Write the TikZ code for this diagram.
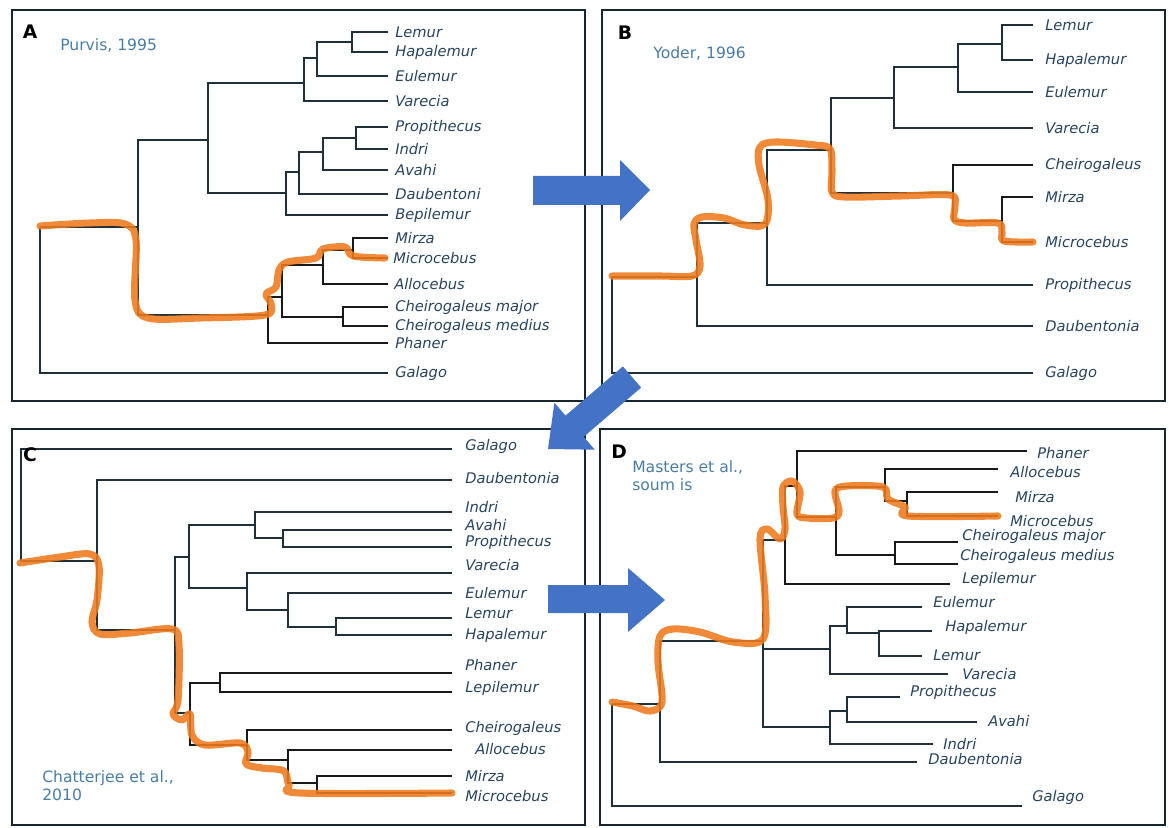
\documentclass[tikz,border=0pt]{standalone}
\usepackage{fontspec}
\setmainfont{DejaVu Sans}[ItalicFont={DejaVu Sans Oblique},BoldFont={DejaVu Sans Bold}]
\usetikzlibrary{calc}
\definecolor{treec}{HTML}{1F303B}
\definecolor{labc}{HTML}{28445F}
\definecolor{titc}{HTML}{4A7DA6}
\definecolor{orng}{HTML}{EE7A1E}
\definecolor{arrc}{HTML}{4472C4}
\definecolor{framec}{HTML}{17252C}
\tikzset{
 frame/.style={draw=framec, line width=1.9pt},
 br/.style={draw=treec, line width=1.4pt},
 brb/.style={draw=black!90, line width=1.9pt},
 lab/.style={font=\fontsize{11}{12}\selectfont\itshape, text=labc, inner sep=0pt, anchor=west},
 tit/.style={font=\fontsize{11.7}{14}\selectfont, text=titc, inner sep=0pt, anchor=north west, align=left},
 pl/.style={font=\fontsize{14}{14}\selectfont\bfseries, text=black, inner sep=0pt},
 hl/.style={draw=orng, line width=5.3pt, line cap=round, line join=round, opacity=0.88},
 bigarrow/.style={fill=arrc, draw=none},
}
\newcommand\mylf[6]{\coordinate (#1) at (#2,#3); \node[lab] (#1l) at ({#2+#4},{#3+#5}) {#6};}
\newcommand\kids[3][br]{\foreach \c in {#3} {\draw[#1] (#2) |- (\c);}}
\begin{document}
\begin{tikzpicture}[x=0.75pt,y=-0.75pt]
\useasboundingbox (0,0) rectangle (1169,827);
% frames
\draw[frame] (12,10) rectangle (585,401);
\draw[frame] (602,10) rectangle (1165,401);
\draw[frame] (12,429) rectangle (585,825);
\draw[frame] (600,429) rectangle (1165,825);

% ================= Panel A =================
\node[pl] (pA) at (30,32) {A};
\node[tit, anchor=west] (tA) at (60,45) {Purvis, 1995};
\mylf{a_lemur}{388}{32}{7}{0}{Lemur}
\mylf{a_hapalemur}{388}{52}{7}{0}{Hapalemur}
\mylf{a_eulemur}{388}{76}{7}{0}{Eulemur}
\mylf{a_varecia}{388}{101}{7}{0}{Varecia}
\mylf{a_propithecus}{388}{127}{7}{0}{Propithecus}
\mylf{a_indri}{388}{149}{7}{0}{Indri}
\mylf{a_avahi}{388}{170}{7}{0}{Avahi}
\mylf{a_daub}{388}{194}{7}{0}{Daubentoni}
\mylf{a_bepil}{388}{215}{7}{0}{Bepilemur}
\mylf{a_mirza}{388}{238}{7}{0}{Mirza}
\mylf{a_micro}{388}{258}{5}{0}{Microcebus}
\mylf{a_allo}{388}{284}{6}{0}{Allocebus}
\mylf{a_chmaj}{388}{307}{7}{0}{Cheirogaleus major}
\mylf{a_chmed}{388}{326}{7}{0}{Cheirogaleus medius}
\mylf{a_phaner}{388}{343}{7}{0}{Phaner}
\mylf{a_galago}{388}{373}{7}{0}{Galago}
\coordinate (A_LH) at (352,42);
\coordinate (A_LHE) at (317,58);
\coordinate (A_LHEV) at (304,83);
\coordinate (A_PI) at (356,138);
\coordinate (A_PIA) at (323,152);
\coordinate (A_PIAD) at (299,172);
\coordinate (A_PIADB) at (286,193);
\coordinate (A_LI) at (208,140);
\coordinate (A_MM) at (353,250);
\coordinate (A_MMA) at (323,265);
\coordinate (A_Ch) at (343,317);
\coordinate (A_Chg) at (282,297);
\coordinate (A_ChP) at (268,315);
\coordinate (A_in) at (138,227);
\coordinate (A_root) at (40,227);
\kids{A_LH}{a_lemur,a_hapalemur}
\kids{A_LHE}{A_LH,a_eulemur}
\kids{A_LHEV}{A_LHE,a_varecia}
\kids{A_PI}{a_propithecus,a_indri}
\kids{A_PIA}{A_PI,a_avahi}
\kids{A_PIAD}{A_PIA,a_daub}
\kids{A_PIADB}{A_PIAD,a_bepil}
\kids{A_LI}{A_LHEV,A_PIADB}
\kids[brb]{A_MM}{a_mirza,a_micro}
\kids[brb]{A_MMA}{A_MM,a_allo}
\kids[brb]{A_Ch}{a_chmaj,a_chmed}
\kids[brb]{A_Chg}{A_MMA,A_Ch}
\kids[brb]{A_ChP}{A_Chg,a_phaner}
\kids{A_in}{A_LI,A_ChP}
\kids{A_root}{A_in,a_galago}
\draw[hl] plot[smooth,tension=0.55] coordinates {(40,226) (90,223) (125,224) (136,240) (135,300) (148,318) (200,318) (265,315) (271,304) (266,294) (276,287) (279,270) (288,262) (316,258) (323,249) (345,247) (353,256) (385,258)};

% ================= Panel B =================
\node[pl] (pB) at (625,33) {B};
\node[tit, anchor=west] (tB) at (653,53) {Yoder, 1996};
\mylf{b_lemur}{1033}{25}{12}{0}{Lemur}
\mylf{b_hapalemur}{1033}{60}{12}{0}{Hapalemur}
\mylf{b_eulemur}{1033}{92}{12}{0}{Eulemur}
\mylf{b_varecia}{1033}{128}{12}{0}{Varecia}
\mylf{b_cheiro}{1033}{165}{12}{0}{Cheirogaleus}
\mylf{b_mirza}{1033}{197}{12}{0}{Mirza}
\mylf{b_micro}{1033}{242}{12}{0}{Microcebus}
\mylf{b_propi}{1033}{285}{12}{0}{Propithecus}
\mylf{b_daub}{1033}{326}{12}{0}{Daubentonia}
\mylf{b_galago}{1033}{373}{12}{0}{Galago}
\coordinate (B_LH) at (1002,44);
\coordinate (B_LHE) at (958,67);
\coordinate (B_LHEV) at (894,98);
\coordinate (B_MM) at (1002,221);
\coordinate (B_ChMM) at (953,193);
\coordinate (B_LC) at (831,150);
\coordinate (B_LCP) at (767,223);
\coordinate (B_D) at (697,277);
\coordinate (B_root) at (612,277);
\kids{B_LH}{b_lemur,b_hapalemur}
\kids{B_LHE}{B_LH,b_eulemur}
\kids{B_LHEV}{B_LHE,b_varecia}
\kids[brb]{B_MM}{b_mirza,b_micro}
\kids[brb]{B_ChMM}{b_cheiro,B_MM}
\kids{B_LC}{B_LHEV,B_ChMM}
\kids{B_LCP}{B_LC,b_propi}
\kids{B_D}{B_LCP,b_daub}
\kids{B_root}{B_D,b_galago}
\draw[hl] plot[smooth,tension=0.55] coordinates {(612,276) (660,276) (692,276) (700,266) (696,240) (694,224) (702,217) (724,218) (745,225) (765,224) (768,200) (759,165) (760,147) (775,142) (815,145) (830,149) (832,170) (832,192) (845,197) (900,196) (950,195) (955,205) (954,219) (965,223) (998,223) (1002,232) (1004,241) (1033,242)};

% ================= Panel C =================
\mylf{c_galago}{452}{449}{13}{-3}{Galago}
\mylf{c_daub}{452}{480}{13}{-2}{Daubentonia}
\mylf{c_indri}{452}{512}{13}{-5}{Indri}
\mylf{c_avahi}{452}{530}{13}{-5}{Avahi}
\mylf{c_propi}{452}{547}{13}{-5}{Propithecus}
\mylf{c_varecia}{452}{573}{13}{-8}{Varecia}
\mylf{c_eulemur}{452}{593}{13}{0}{Eulemur}
\mylf{c_lemur}{452}{618}{13}{-5}{Lemur}
\mylf{c_hapalemur}{452}{635}{13}{0}{Hapalemur}
\mylf{c_phaner}{452}{673}{13}{-8}{Phaner}
\mylf{c_lepil}{452}{692}{13}{-4}{Lepilemur}
\mylf{c_cheiro}{452}{730}{13}{-2}{Cheirogaleus}
\mylf{c_allo}{452}{750}{23}{-1}{Allocebus}
\mylf{c_mirza}{452}{776}{13}{0}{Mirza}
\mylf{c_micro}{452}{793}{13}{3}{Microcebus}
\coordinate (C_AP) at (283,538);
\coordinate (C_IAP) at (255,525);
\coordinate (C_LH) at (336,627);
\coordinate (C_ELH) at (288,610);
\coordinate (C_VELH) at (247,588);
\coordinate (C_LI) at (189,557);
\coordinate (C_PL) at (220,683);
\coordinate (C_MM) at (317,783);
\coordinate (C_AMM) at (288,760);
\coordinate (C_CAMM) at (247,745);
\coordinate (C_PLC) at (190,713);
\coordinate (C_mid) at (175,630);
\coordinate (C_D) at (97,561);
\coordinate (C_root) at (21,561);
\kids{C_AP}{c_avahi,c_propi}
\kids{C_IAP}{c_indri,C_AP}
\kids{C_LH}{c_lemur,c_hapalemur}
\kids{C_ELH}{c_eulemur,C_LH}
\kids{C_VELH}{c_varecia,C_ELH}
\kids{C_LI}{C_IAP,C_VELH}
\kids[brb]{C_PL}{c_phaner,c_lepil}
\kids[brb]{C_MM}{c_mirza,c_micro}
\kids[brb]{C_AMM}{c_allo,C_MM}
\kids[brb]{C_CAMM}{c_cheiro,C_AMM}
\kids[brb]{C_PLC}{C_PL,C_CAMM}
\kids{C_mid}{C_LI,C_PLC}
\kids{C_D}{c_daub,C_mid}
\kids{C_root}{c_galago,C_D}
\node[pl] (pC) at (30,455) {C};
\node[tit] (tC) at (42,770) {Chatterjee et al.,\\2010};
\draw[hl] plot[smooth,tension=0.55] coordinates {(20,563) (60,557) (90,554) (99,566) (97,600) (92,622) (100,634) (130,633) (172,629) (179,645) (178,700) (173,714) (182,720) (190,714) (192,735) (205,745) (240,743) (248,752) (246,764) (262,768) (284,771) (289,785) (300,793) (452,793)};

% ================= Panel D =================
\node[pl] (pD) at (619,452) {D};
\node[tit] (tD) at (632,460) {Masters et al.,\\soum is};
\mylf{d_phaner}{1027}{451}{10}{2}{Phaner}
\mylf{d_allo}{998}{469}{12}{3}{Allocebus}
\mylf{d_mirza}{998}{492}{17}{5}{Mirza}
\mylf{d_micro}{998}{516}{12}{5}{Microcebus}
\mylf{d_chmaj}{958}{542}{4}{-6}{Cheirogaleus major}
\mylf{d_chmed}{958}{564}{2}{-8}{Cheirogaleus medius}
\mylf{d_lepil}{950}{584}{12}{-5}{Lepilemur}
\mylf{d_eulemur}{922}{607}{11}{-5}{Eulemur}
\mylf{d_hapa}{932}{631}{13}{-4}{Hapalemur}
\mylf{d_lemur}{922}{656}{11}{-1}{Lemur}
\mylf{d_varecia}{948}{674}{14}{0}{Varecia}
\mylf{d_propi}{900}{697}{10}{-5}{Propithecus}
\mylf{d_avahi}{977}{722}{11}{-1}{Avahi}
\mylf{d_indri}{933}{744}{10}{0}{Indri}
\mylf{d_daub}{917}{762}{11}{-3}{Daubentonia}
\mylf{d_galago}{1022}{806}{10}{-9}{Galago}
\coordinate (D_MM) at (907,501);
\coordinate (D_AMM) at (885,487);
\coordinate (D_Ch) at (895,555);
\coordinate (D_Cg) at (836,517);
\coordinate (D_Ph) at (797,486);
\coordinate (D_Lep) at (785,540);
\coordinate (D_LH) at (879,633);
\coordinate (D_ELH) at (847,626);
\coordinate (D_Lem) at (830,649);
\coordinate (D_PA) at (847,711);
\coordinate (D_Ind) at (830,727);
\coordinate (D_top) at (763,641);
\coordinate (D_D) at (660,704);
\coordinate (D_root) at (612,704);
\kids[brb]{D_MM}{d_mirza,d_micro}
\kids[brb]{D_AMM}{d_allo,D_MM}
\kids[brb]{D_Ch}{d_chmaj,d_chmed}
\kids[brb]{D_Cg}{D_AMM,D_Ch}
\kids[brb]{D_Ph}{d_phaner,D_Cg}
\kids[brb]{D_Lep}{D_Ph,d_lepil}
\kids{D_LH}{d_hapa,d_lemur}
\kids{D_ELH}{d_eulemur,D_LH}
\kids{D_Lem}{D_ELH,d_varecia}
\kids{D_PA}{d_propi,d_avahi}
\kids{D_Ind}{D_PA,d_indri}
\kids{D_top}{D_Lep,D_Lem,D_Ind}
\kids{D_D}{D_top,d_daub}
\kids{D_root}{D_D,d_galago}
\draw[hl] plot[smooth,tension=0.55] coordinates {(612,702) (633,706) (650,711) (662,702) (658,662) (660,636) (673,629) (700,632) (733,642) (763,639) (765,596) (760,539) (767,529) (780,539) (785,529) (783,506) (783,487) (792,481) (800,492) (797,514) (807,518) (833,518) (839,511) (835,491) (847,486) (883,487) (888,499) (905,507) (908,516) (998,516)};

% ================= Arrows =================
\path[bigarrow] (533,176) -- (620,176) -- (620,160) -- (650,190) -- (620,221) -- (620,205) -- (533,205) -- cycle;
\path[bigarrow] (622.9,366.4) -- (565.5,415.6) -- (554.4,402.7) -- (548,449) -- (594.8,449.7) -- (583.7,436.8) -- (641.1,387.6) -- cycle;
\path[bigarrow] (548,585) -- (628,585) -- (628,568) -- (665,600) -- (628,632) -- (628,613) -- (548,613) -- cycle;
\end{tikzpicture}
\end{document}
